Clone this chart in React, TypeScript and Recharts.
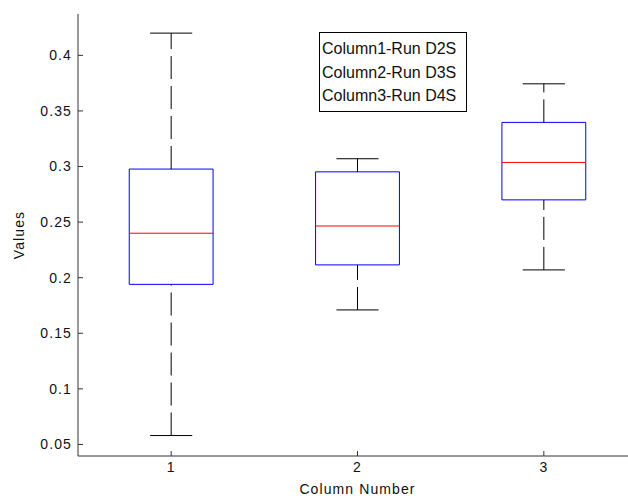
import React from "react";
import {
  ComposedChart,
  XAxis,
  YAxis,
  ReferenceArea,
  ReferenceLine,
  Legend,
} from "recharts";

const columns = [1, 2, 3];
const lowerWhisker = [0.058, 0.171, 0.207];
const q1 = [0.194, 0.2115, 0.27];
const median = [0.24, 0.2465, 0.3037];
const q3 = [0.2977, 0.2952, 0.3397];
const upperWhisker = [0.42, 0.307, 0.3744];
const yTicks = [0.05, 0.1, 0.15, 0.2, 0.25, 0.3, 0.35, 0.4];
const legendLabels = ["Column1-Run D2S", "Column2-Run D3S", "Column3-Run D4S"];

const BOX_HALF = 0.225; // box is 0.45 column units wide
const CAP_HALF = 0.113;
const FONT = "'Liberation Sans', Arial, sans-serif";
const AXIS = "#333";

const data = columns.map((c, i) => ({
  column: c,
  low: lowerWhisker[i],
  q1: q1[i],
  median: median[i],
  q3: q3[i],
  high: upperWhisker[i],
}));

const LegendBox = () => (
  <div
    style={{
      width: 146,
      height: 74,
      border: "1px solid #000",
      background: "#fff",
      fontFamily: FONT,
      fontSize: 16,
      letterSpacing: 0,
      color: "#111",
      paddingTop: 4,
      boxSizing: "content-box",
    }}
  >
    {legendLabels.map((l) => (
      <div
        key={l}
        style={{ height: 23.5, lineHeight: "23.5px", paddingLeft: 2, whiteSpace: "nowrap", letterSpacing: 0 }}
      >
        {l}
      </div>
    ))}
  </div>
);

export default function App() {
  const tickStyle = { fill: "#111", fontSize: 14, fontFamily: FONT, letterSpacing: "1.1px" };
  return (
    <div
      style={{
        position: "absolute",
        left: 0,
        top: 0,
        width: 628,
        height: 499,
        overflow: "hidden",
        background: "#fff",
        fontFamily: FONT,
        letterSpacing: "1.1px",
      }}
    >
      <ComposedChart
        width={650}
        height={499}
        data={data}
        margin={{ top: 14, right: 13, bottom: 0, left: 0 }}
      >
        <XAxis
          dataKey="column"
          type="number"
          domain={[0.5, 3.5]}
          ticks={columns}
          height={43}
          stroke={AXIS}
          tickSize={-5}
          tickMargin={11}
          tick={tickStyle}
          label={{ value: "Column Number", position: "center", dy: 12, fill: "#111", fontSize: 14 }}
        />
        <XAxis
          xAxisId="top"
          orientation="top"
          type="number"
          domain={[0.5, 3.5]}
          ticks={columns}
          height={0}
          stroke={AXIS}
          tickSize={-5}
          tick={false}
        />
        <YAxis
          type="number"
          domain={[0.0396, 0.4372]}
          ticks={yTicks}
          width={78}
          stroke={AXIS}
          tickSize={-5}
          tickMargin={11}
          tick={tickStyle}
          allowDataOverflow
          label={{ value: "Values", angle: -90, position: "center", dx: -20, fill: "#111", fontSize: 14 }}
        />
        <Legend
          layout="horizontal"
          verticalAlign="middle"
          content={() => <LegendBox />}
          wrapperStyle={{ left: 319, top: 32, width: "auto", height: "auto" }}
        />
        {data.map((d) => (
          <ReferenceLine
            key={`wu${d.column}`}
            segment={[{ x: d.column, y: d.q3 }, { x: d.column, y: d.high }]}
            stroke="#000"
            strokeDasharray="23 7"
          />
        ))}
        {data.map((d) => (
          <ReferenceLine
            key={`wl${d.column}`}
            segment={[{ x: d.column, y: d.low }, { x: d.column, y: d.q1 }]}
            stroke="#000"
            strokeDasharray="23 7"
          />
        ))}
        {data.map((d) => (
          <ReferenceLine
            key={`cu${d.column}`}
            segment={[{ x: d.column - CAP_HALF, y: d.high }, { x: d.column + CAP_HALF, y: d.high }]}
            stroke="#000"
          />
        ))}
        {data.map((d) => (
          <ReferenceLine
            key={`cl${d.column}`}
            segment={[{ x: d.column - CAP_HALF, y: d.low }, { x: d.column + CAP_HALF, y: d.low }]}
            stroke="#000"
          />
        ))}
        {data.map((d) => (
          <ReferenceArea
            key={`b${d.column}`}
            x1={d.column - BOX_HALF}
            x2={d.column + BOX_HALF}
            y1={d.q1}
            y2={d.q3}
            fill="#fff"
            fillOpacity={1}
            stroke="#0000ff"
            strokeWidth={1}
          />
        ))}
        {data.map((d) => (
          <ReferenceLine
            key={`m${d.column}`}
            segment={[{ x: d.column - BOX_HALF, y: d.median }, { x: d.column + BOX_HALF, y: d.median }]}
            stroke="#ff0000"
          />
        ))}
      </ComposedChart>
    </div>
  );
}
